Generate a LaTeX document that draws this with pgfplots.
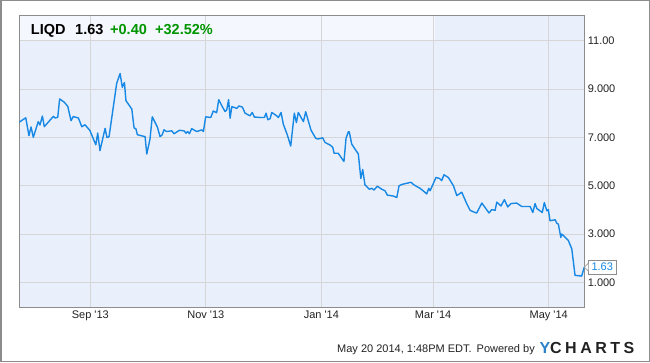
\documentclass[border=0pt]{standalone}
\usepackage{fontspec}
\setmainfont{Liberation Sans}
\usepackage{pgfplots}
\pgfplotsset{compat=1.18}
\definecolor{bgblue}{RGB}{233,240,251}
\definecolor{bandc}{RGB}{244,247,253}
\definecolor{gridc}{RGB}{214,214,214}
\definecolor{linec}{RGB}{24,136,229}
\definecolor{framec}{RGB}{140,140,140}
\definecolor{greenc}{RGB}{0,150,0}
\definecolor{ylogo}{RGB}{44,130,201}
\definecolor{txt}{RGB}{34,34,34}

\begin{document}
\begin{tikzpicture}[x=1pt,y=1pt]
\useasboundingbox (0,0) rectangle (650,362);
\draw[framec, line width=1.5pt] (0.75,0.75) rectangle (649.25,361.25);
\fill[bgblue] (19.3,55) rectangle (584.3,346.7);
\fill[bandc] (19.3,321.5) rectangle (435,346.7);
\begin{axis}[
  at={(19.3pt,55pt)}, anchor=south west,
  scale only axis, width=565pt, height=291.7pt,
  xmin=-37.5, xmax=260.8, ymin=-0.02, ymax=12.05,
  axis line style={framec, line width=0.8pt},
  xtick={0,61,122,181,242},
  xticklabels={Sep \textquotesingle13, Nov \textquotesingle13, Jan \textquotesingle14, Mar \textquotesingle14, May \textquotesingle14},
  ytick={1,3,5,7,9,11},
  yticklabels={1.000,3.000,5.000,7.000,9.000,11.00},
  yticklabel pos=right,
  major tick length=0pt,
  grid=major, grid style={gridc, line width=0.8pt},
  tick label style={font=\fontsize{11}{13}\selectfont, text=txt},
]
\addplot[linec, line width=1.4pt, line join=round] coordinates {
(-37.5,7.62) (-37.1,7.65) (-34.1,7.81) (-32.4,7.07) (-31.3,7.43) (-30.1,7.0) (-27.5,7.65) (-26.6,7.51) (-25.3,7.88) (-24.3,7.44) (-19.5,7.87) (-18.6,7.80) (-17.2,7.83) (-16.2,8.59) (-13.7,8.45) (-11.9,8.28) (-10.2,7.69) (-9.0,7.86) (-6.3,7.80) (-4.5,7.44) (-2.8,7.52) (-0.2,7.28) (2.9,6.69) (3.9,7.18) (5.1,6.45) (7.8,7.37) (8.8,6.99) (9.9,7.03) (13.9,9.23) (15.7,9.64) (16.9,9.07) (18.0,9.27) (18.8,8.52) (21.9,8.17) (23.1,7.39) (24.1,7.35) (24.8,7.11) (28.9,7.03) (29.8,6.31) (31.5,6.93) (32.7,7.85) (35.4,7.43) (36.8,7.03) (37.9,7.10) (38.9,7.31) (40.3,7.24) (43.0,7.27) (44.2,7.15) (47.0,7.29) (49.5,7.27) (50.5,7.17) (51.4,7.24) (52.3,7.15) (53.5,7.36) (56.2,7.24) (58.8,7.31) (59.7,7.24) (60.9,7.85) (63.6,7.82) (64.9,8.09) (66.7,8.02) (67.8,8.56) (69.4,8.31) (71.1,8.07) (72.0,8.13) (73.0,8.56) (73.8,7.79) (74.7,8.27) (77.3,8.20) (78.5,8.30) (80.3,8.25) (81.7,8.00) (84.3,7.89) (85.5,8.03) (86.6,7.84) (90.1,7.82) (91.9,7.82) (92.8,8.00) (93.7,7.73) (94.9,7.77) (95.8,8.03) (98.4,7.89) (99.3,7.82) (100.7,8.03) (101.9,7.54) (104.0,7.10) (105.8,6.64) (107.7,8.00) (108.8,7.61) (109.8,8.03) (112.5,7.65) (113.7,8.06) (116.5,7.30) (119.0,6.96) (120.1,6.93) (122.7,6.98) (123.9,6.79) (126.6,6.68) (128.0,6.59) (128.7,6.34) (130.9,6.34) (133.9,6.00) (135.0,6.96) (136.2,7.23) (136.7,7.23) (138.0,6.72) (141.5,6.31) (142.8,5.30) (143.8,5.67) (145.0,5.03) (147.3,4.85) (148.6,4.89) (149.8,4.82) (151.5,4.98) (153.9,4.85) (155.6,4.79) (156.8,4.61) (160.0,4.57) (161.8,4.51) (163.0,5.00) (164.9,5.06) (169.3,5.14) (170.9,5.03) (174.1,4.89) (176.3,4.75) (177.6,4.66) (178.7,4.89) (179.4,4.79) (182.5,5.34) (184.3,5.30) (185.5,5.21) (186.7,5.45) (189.0,5.34) (191.7,5.00) (193.5,4.59) (196.1,4.73) (198.7,4.26) (200.5,3.98) (203.1,3.89) (204.0,3.87) (206.7,4.28) (210.5,3.87) (211.9,4.01) (213.7,3.98) (214.6,4.32) (216.8,4.16) (218.6,4.42) (220.4,4.12) (222.1,4.26) (225.1,4.28) (227.8,4.14) (232.2,4.14) (233.6,3.89) (234.8,4.26) (235.7,4.06) (238.6,3.89) (239.7,4.30) (241.0,3.96) (241.8,4.01) (242.7,3.55) (245.4,3.59) (246.3,3.44) (247.1,3.41) (248.4,2.86) (248.9,3.00) (249.8,2.93) (252.4,2.73) (254.2,2.38) (255.9,1.29) (259.4,1.26) (260.8,1.63)
};
\coordinate (endpt) at (axis cs:260.8,1.63);
\end{axis}
\node[anchor=west, draw=framec, fill=white, text=linec, inner xsep=3pt, inner ysep=0pt, minimum height=13.3pt, font=\fontsize{11}{13}\selectfont, xshift=4pt] (cl) at (endpt) {1.63};
\draw[framec, fill=white, line width=0.6pt] ([yshift=3.8pt]cl.west) -- ++(-4pt,-3.8pt) -- ++(4pt,-3.8pt);
\fill[white] ([yshift=3.2pt, xshift=0.3pt]cl.west) rectangle ([yshift=-3.2pt, xshift=0.9pt]cl.west);
% title
\begin{scope}[font=\fontsize{14.5}{16}\selectfont\bfseries]
\node[anchor=base west, inner sep=0pt, text=black] at (30.7,327.7) {LIQD};
\node[anchor=base west, inner sep=0pt, text=black] at (75,327.7) {1.63};
\node[anchor=base west, inner sep=0pt, text=greenc] at (110,327.7) {+0.40};
\node[anchor=base west, inner sep=0pt, text=greenc] at (155,327.7) {+32.52\%};
\end{scope}
% footer
\node[anchor=base east, inner sep=0pt, text=txt, font=\fontsize{11}{13}\selectfont] at (535,9.3) {May 20 2014, 1:48PM EDT.\hspace{5pt}Powered by};
\node[anchor=base west, inner sep=0pt, font=\fontsize{16}{18}\selectfont\bfseries\addfontfeature{LetterSpace=22}] at (539.3,8.7) {\textcolor{ylogo}{Y}\textcolor{txt}{CHARTS}};
\end{tikzpicture}
\end{document}
